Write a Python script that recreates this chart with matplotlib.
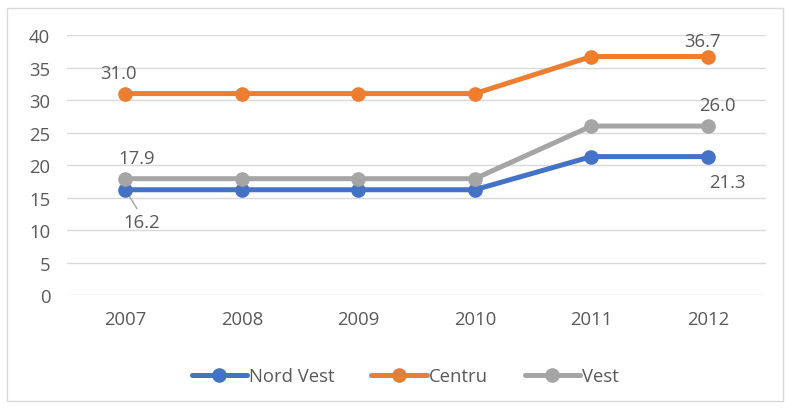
import matplotlib.pyplot as plt
from matplotlib.patches import Rectangle

years = ['2007', '2008', '2009', '2010', '2011', '2012']
nord_vest = [16.2, 16.2, 16.2, 16.2, 21.3, 21.3]
centru = [31.0, 31.0, 31.0, 31.0, 36.7, 36.7]
vest = [17.9, 17.9, 17.9, 17.9, 26.0, 26.0]

plt.rcParams['font.family'] = ['Open Sans', 'DejaVu Sans']
txt = '#595959'
fs = 13.3

fig = plt.figure(figsize=(7.85, 4.1), dpi=100)
ax = fig.add_axes([0.0854, 0.278, 0.8906, 0.634])

x = list(range(len(years)))
series = [('Nord Vest', nord_vest, '#4472C4'),
          ('Centru', centru, '#ED7D31'),
          ('Vest', vest, '#A5A5A5')]
for name, vals, col in series:
    ax.plot(x, vals, color=col, lw=3.6, marker='o', ms=9.5, label=name,
            solid_capstyle='round', zorder=3)

ax.set_xlim(-0.5, 5.5)
ax.set_ylim(0, 40)
ax.set_yticks(range(0, 41, 5))
ax.set_xticks(x)
ax.set_xticklabels(years)
ax.grid(axis='y', color='#D9D9D9', lw=1)
ax.set_axisbelow(True)
for s in ax.spines.values():
    s.set_visible(False)
ax.tick_params(length=0, labelsize=fs, colors=txt)
ax.tick_params(axis='y', pad=12)
ax.tick_params(axis='x', pad=11)

# value labels on first and last points (offsets in pixels -> points)
def lab(i, vals, dx, dy, line=False):
    kw = {}
    if line:
        kw['arrowprops'] = dict(arrowstyle='-', color='#A6A6A6', lw=1,
                                shrinkA=1, shrinkB=3, relpos=(0.45, 1.0))
    ax.annotate(f'{vals[i]:.1f}', (i, vals[i]), xytext=(dx * 0.72, dy * 0.72),
                textcoords='offset points', ha='center', va='center',
                fontsize=fs, color=txt, zorder=2, **kw)

lab(0, centru, -7, 21)
lab(0, vest, 11, 21)
lab(0, nord_vest, 16, -32, line=True)
lab(5, centru, -5, 15.5)
lab(5, vest, 10, 21)
lab(5, nord_vest, 19, -25)

leg = fig.legend(loc='center', bbox_to_anchor=(0.516, 0.08), ncol=3,
                 frameon=False, fontsize=fs, handlelength=3.0,
                 handletextpad=0.1, columnspacing=2.0, labelcolor=txt)

fig.patches.append(Rectangle((7 / 785, 8 / 410), 776 / 785, 393 / 410,
                             transform=fig.transFigure, fill=False,
                             edgecolor='#D9D9D9', lw=1))

fig.savefig('out.png', dpi=100)
